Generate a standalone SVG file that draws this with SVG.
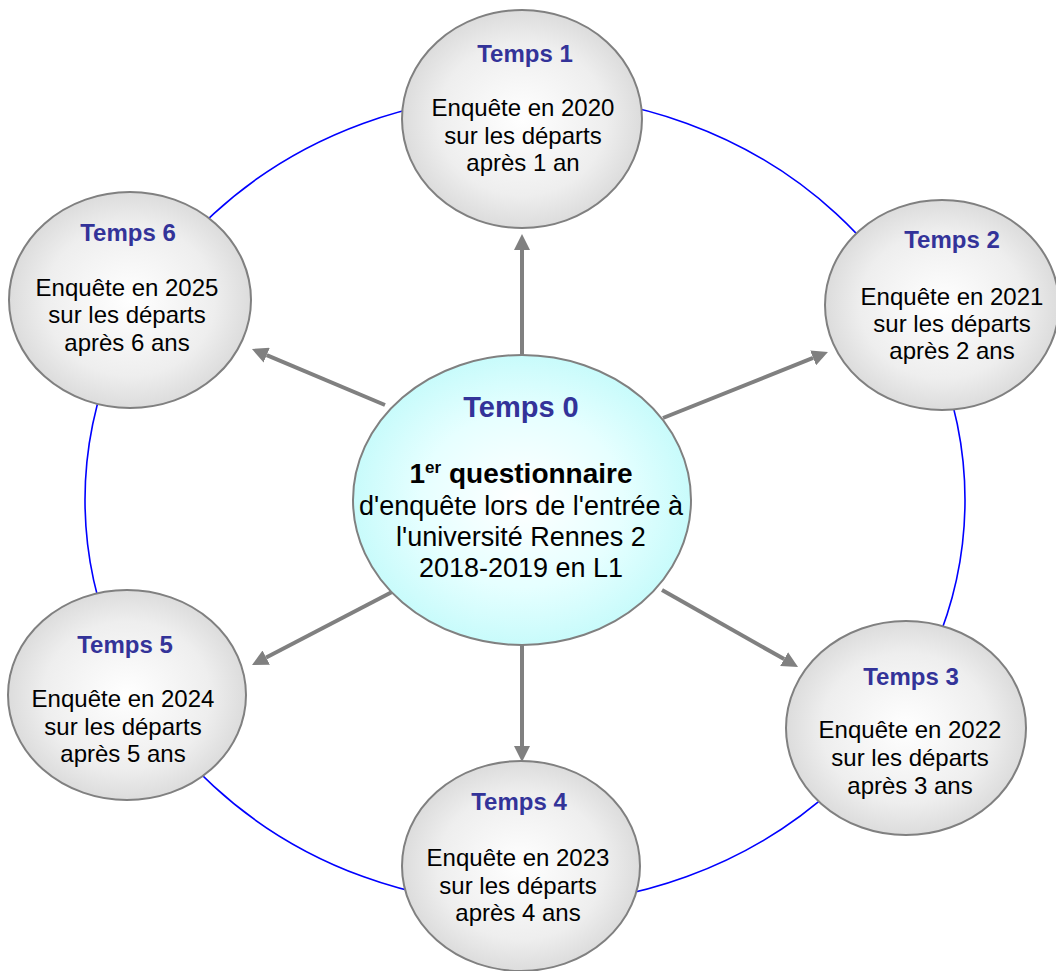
<svg xmlns="http://www.w3.org/2000/svg" width="1056" height="971" viewBox="0 0 1056 971">
<style>
.node{stroke:#808080;stroke-width:2}
.sat{fill:url(#gGray)}
.ctr{fill:url(#gCyan)}
.ttl{font-family:"Liberation Sans",Arial,sans-serif;font-weight:bold;font-size:24px;fill:#333399;text-anchor:middle}
.body{font-family:"Liberation Sans",Arial,sans-serif;font-size:24px;fill:#000;text-anchor:middle}
.cbody{font-family:"Liberation Sans",Arial,sans-serif;font-size:27px;fill:#000;text-anchor:middle}
.ring{fill:none;stroke:#0000ff;stroke-width:1.6}
.arr{stroke:#808080;stroke-width:4;fill:none;marker-end:url(#ah)}
</style>
<defs>
<radialGradient id="gGray" cx="50%" cy="50%" r="50%">
<stop offset="0" stop-color="#ffffff"/>
<stop offset="0.7" stop-color="#eeeeee"/>
<stop offset="1" stop-color="#dcdcdc"/>
</radialGradient>
<radialGradient id="gCyan" cx="50%" cy="50%" r="50%">
<stop offset="0" stop-color="#ffffff"/>
<stop offset="0.6" stop-color="#e6ffff"/>
<stop offset="1" stop-color="#c8fbfb"/>
</radialGradient>
<marker id="ah" markerUnits="userSpaceOnUse" markerWidth="16" markerHeight="16" viewBox="0 0 16 16" refX="0" refY="8" orient="auto">
<path d="M0,0 L16,8 L0,16 z" fill="#808080"/>
</marker>
</defs>
<rect width="1056" height="971" fill="#ffffff"/>
<ellipse class="ring" cx="525" cy="500" rx="440" ry="405"/>
<g id="connectors">
<line class="arr" x1="522" y1="355" x2="522" y2="250"/>
<line class="arr" x1="663" y1="418" x2="813.1" y2="357.9"/>
<line class="arr" x1="662" y1="590" x2="784.1" y2="659.1"/>
<line class="arr" x1="522" y1="645" x2="522" y2="746"/>
<line class="arr" x1="392" y1="592" x2="266.2" y2="657.6"/>
<line class="arr" x1="385" y1="405" x2="266.7" y2="355.2"/>
</g>
<g id="t0">
<ellipse class="node ctr" cx="522" cy="500" rx="169" ry="145"/>
<text class="ttl" x="521" y="417" style="font-size:29px">Temps 0</text>
<text x="521" y="483" style="font-family:'Liberation Sans',Arial,sans-serif;font-weight:bold;font-size:28px;text-anchor:middle">1<tspan dy="-10" style="font-size:17px">er</tspan><tspan dy="10"> questionnaire</tspan></text>
<text class="cbody" x="521" y="515">d'enquête lors de l'entrée à</text>
<text class="cbody" x="521" y="546">l'université Rennes 2</text>
<text class="cbody" x="521" y="577">2018-2019 en L1</text>
</g>
<g id="t1">
<ellipse class="node sat" cx="522" cy="119" rx="120" ry="109"/>
<text class="ttl" x="525" y="62">Temps 1</text>
<text class="body" x="523" y="116">Enquête en 2020</text>
<text class="body" x="523" y="144">sur les départs</text>
<text class="body" x="523" y="171">après 1 an</text>
</g>
<g id="t2">
<ellipse class="node sat" cx="942" cy="305" rx="117" ry="105"/>
<text class="ttl" x="952" y="248">Temps 2</text>
<text class="body" x="952" y="305">Enquête en 2021</text>
<text class="body" x="952" y="332">sur les départs</text>
<text class="body" x="952" y="359">après 2 ans</text>
</g>
<g id="t3">
<ellipse class="node sat" cx="906" cy="728" rx="120" ry="107"/>
<text class="ttl" x="911" y="685">Temps 3</text>
<text class="body" x="910" y="738">Enquête en 2022</text>
<text class="body" x="910" y="766">sur les départs</text>
<text class="body" x="910" y="794">après 3 ans</text>
</g>
<g id="t4">
<ellipse class="node sat" cx="521" cy="866" rx="119" ry="105"/>
<text class="ttl" x="519" y="810">Temps 4</text>
<text class="body" x="518" y="866">Enquête en 2023</text>
<text class="body" x="518" y="894">sur les départs</text>
<text class="body" x="518" y="921">après 4 ans</text>
</g>
<g id="t5">
<ellipse class="node sat" cx="127" cy="695" rx="119" ry="105"/>
<text class="ttl" x="125" y="653">Temps 5</text>
<text class="body" x="123" y="707">Enquête en 2024</text>
<text class="body" x="123" y="735">sur les départs</text>
<text class="body" x="123" y="762">après 5 ans</text>
</g>
<g id="t6">
<ellipse class="node sat" cx="130" cy="300" rx="121" ry="108"/>
<text class="ttl" x="128" y="241">Temps 6</text>
<text class="body" x="127" y="296">Enquête en 2025</text>
<text class="body" x="127" y="323">sur les départs</text>
<text class="body" x="127" y="351">après 6 ans</text>
</g>
</svg>
